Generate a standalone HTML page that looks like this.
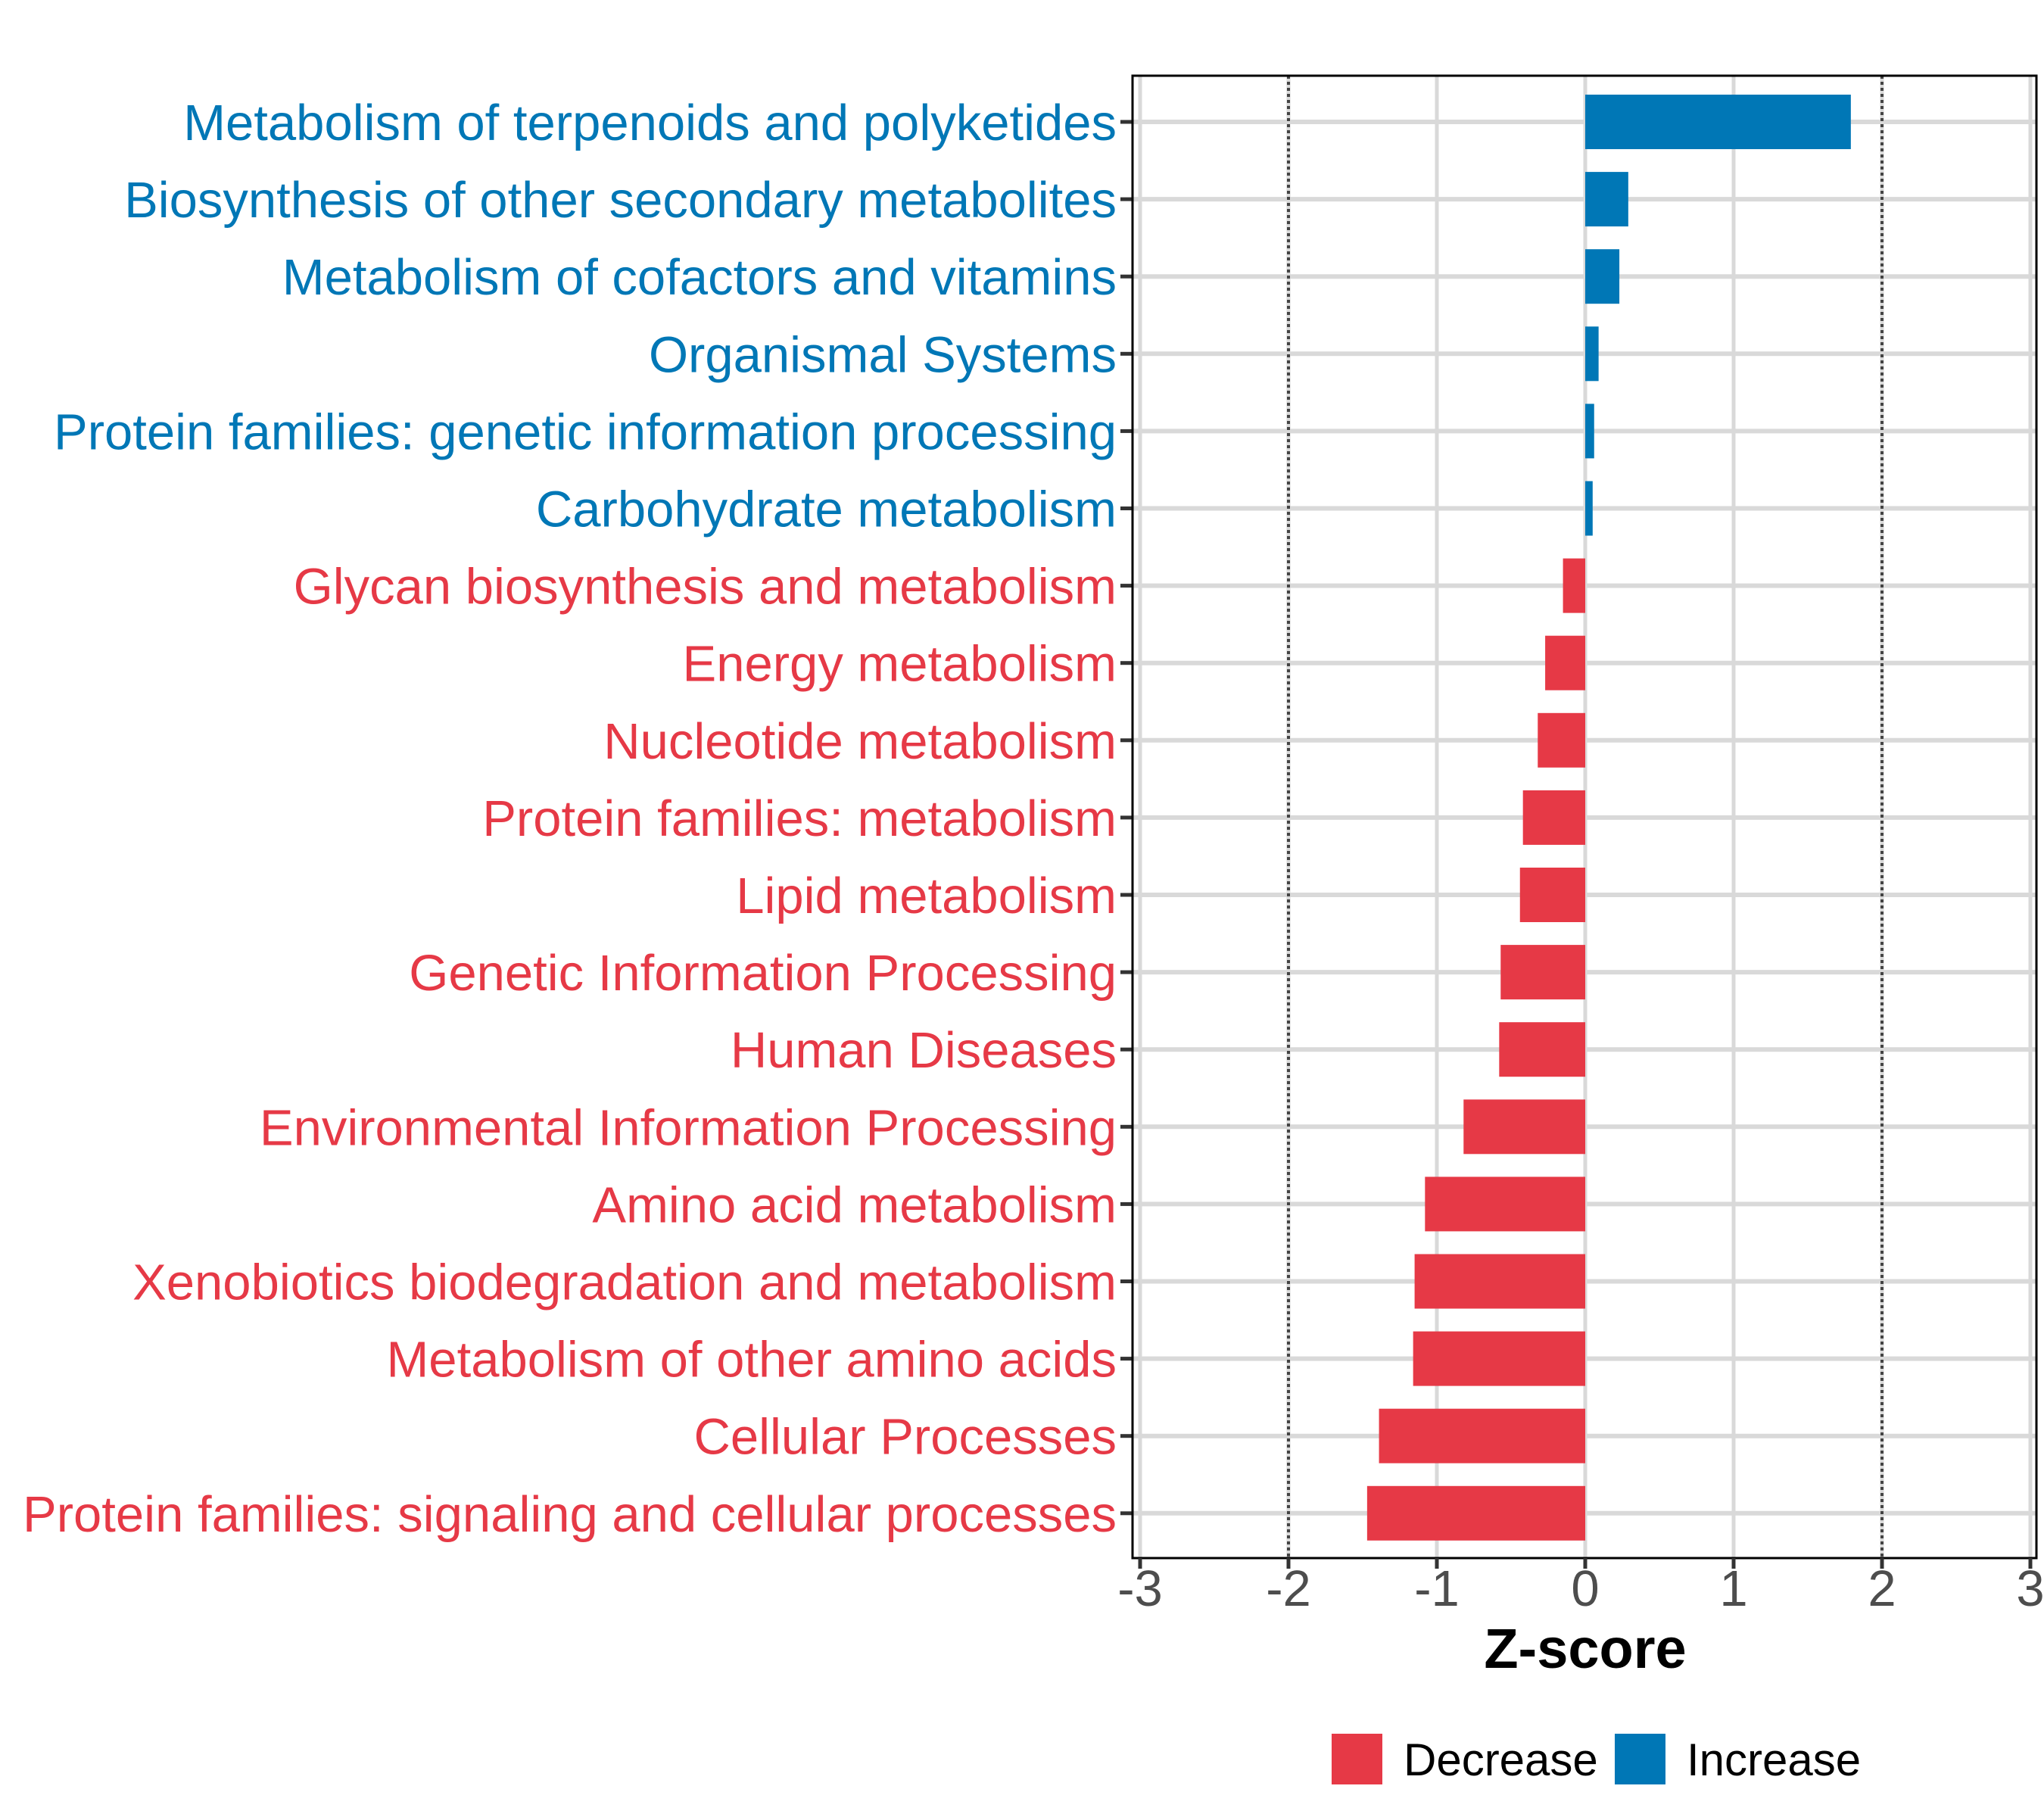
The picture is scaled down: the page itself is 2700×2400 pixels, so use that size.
<!DOCTYPE html>
<html><head><meta charset="utf-8"><style>
html,body{margin:0;padding:0;background:#fff;}
svg{display:block;font-family:"Liberation Sans",Arial,sans-serif;}
</style></head><body>
<svg id="chart" width="2700" height="2400" viewBox="0 0 2700 2400" xmlns="http://www.w3.org/2000/svg">
<rect x="0" y="0" width="2700" height="2400" fill="#fff"/>
<g id="grid"></g>
<g id="bars"></g>
<g id="axes"></g>
<text x="2094" y="2203" text-anchor="middle" font-size="74" font-weight="bold" fill="#000">Z-score</text>
<g>
  <rect x="1759" y="2290" width="67" height="67" fill="#E63946"/>
  <text x="1854" y="2345" font-size="60" fill="#000">Decrease</text>
  <rect x="2133" y="2290" width="67" height="67" fill="#0077B6"/>
  <text x="2228" y="2345" font-size="60" fill="#000">Increase</text>
</g>
</svg>
<script>
const categories = ["Metabolism of terpenoids and polyketides","Biosynthesis of other secondary metabolites","Metabolism of cofactors and vitamins","Organismal Systems","Protein families: genetic information processing","Carbohydrate metabolism","Glycan biosynthesis and metabolism","Energy metabolism","Nucleotide metabolism","Protein families: metabolism","Lipid metabolism","Genetic Information Processing","Human Diseases","Environmental Information Processing","Amino acid metabolism","Xenobiotics biodegradation and metabolism","Metabolism of other amino acids","Cellular Processes","Protein families: signaling and cellular processes"];
const zscores = [1.79,0.29,0.23,0.09,0.06,0.05,-0.15,-0.27,-0.32,-0.42,-0.44,-0.57,-0.58,-0.82,-1.08,-1.15,-1.16,-1.39,-1.47];
const xTicks = [-3,-2,-1,0,1,2,3];
const xTickLabels = ["-3","-2","-1","0","1","2","3"];
const thresholds = [-2,2];

const NS="http://www.w3.org/2000/svg";
const L=1496,R=2690,T=100,B=2058;
const X0=2094,U=196;
const xs=v=>X0+v*U;
const Y0=161,STEP=102.1;
const ys=i=>Y0+i*STEP;
const BH=72;
function mk(tag,attrs,parent){const e=document.createElementNS(NS,tag);for(const k in attrs)e.setAttribute(k,attrs[k]);parent.appendChild(e);return e;}
const grid=document.getElementById('grid'),bars=document.getElementById('bars'),axes=document.getElementById('axes');

xTicks.forEach((t,i)=>{
  const g=mk('line',{x1:xs(t),x2:xs(t),y1:T,y2:B,stroke:'#d9d9d9','stroke-width':5},grid);
  
  
});
categories.forEach((c,i)=>{
  const g=mk('line',{x1:L,x2:R,y1:ys(i),y2:ys(i),stroke:'#d9d9d9','stroke-width':6},grid);
  
  
});
thresholds.forEach(t=>{
  const d=mk('line',{x1:xs(t),x2:xs(t),y1:T,y2:B,stroke:'#444','stroke-width':4,'stroke-dasharray':'4 4'},grid);
  
  
});
categories.forEach((c,i)=>{
  const v=zscores[i];
  const col=v>=0?'#0077B6':'#E63946';
  const b=mk('rect',{x:Math.min(xs(0),xs(v)),y:ys(i)-BH/2,width:Math.abs(xs(v)-xs(0)),height:BH,fill:col},bars);
  
  
  const tx=mk('text',{x:1475,y:ys(i)+24,'text-anchor':'end','font-size':67,fill:col},axes);
  tx.textContent=c;
  
  
  const tk=mk('line',{x1:1480,x2:L,y1:ys(i),y2:ys(i),stroke:'#333','stroke-width':5},axes);
  
  
});
const frame=mk('rect',{x:L,y:T,width:R-L,height:B-T,fill:'none',stroke:'#000','stroke-width':3},axes);


xTicks.forEach((t,i)=>{
  const tk=mk('line',{x1:xs(t),x2:xs(t),y1:B,y2:B+14,stroke:'#333','stroke-width':5},axes);
  
  
  const lb=mk('text',{x:xs(t),y:2121,'text-anchor':'middle','font-size':67,fill:'#4d4d4d'},axes);
  lb.textContent=xTickLabels[i];
  
  
});
</script>
</body></html>
